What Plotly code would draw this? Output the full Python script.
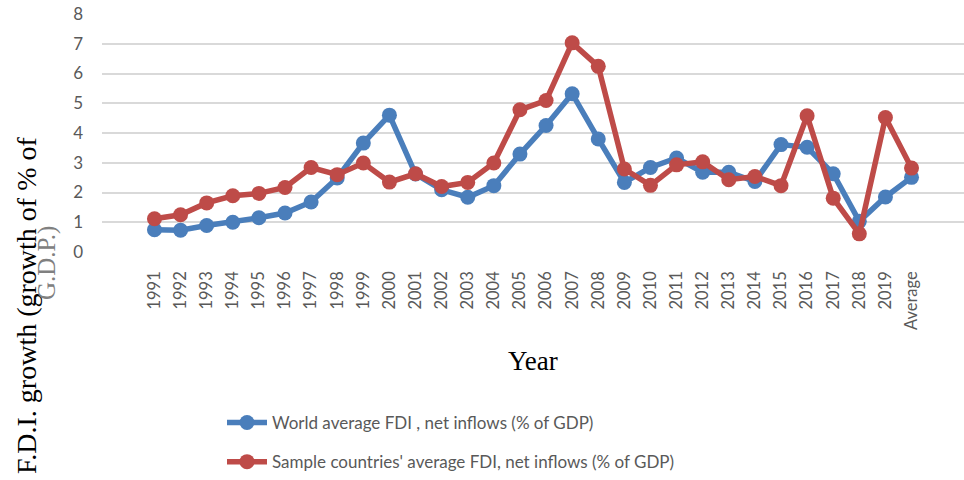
import plotly.graph_objects as go

# Categories along the x axis
years = [str(y) for y in range(1991, 2020)] + ["Average"]

# FDI net inflows, % of GDP
world_fdi = [0.75, 0.73, 0.89, 1.00, 1.15, 1.31, 1.68, 2.49, 3.66, 4.60,
             2.62, 2.09, 1.84, 2.23, 3.29, 4.25, 5.32, 3.80, 2.34, 2.84,
             3.16, 2.68, 2.68, 2.37, 3.61, 3.52, 2.63, 1.03, 1.85, 2.51]
sample_fdi = [1.12, 1.25, 1.65, 1.89, 1.97, 2.17, 2.84, 2.60, 2.99, 2.35,
              2.63, 2.20, 2.34, 2.99, 4.78, 5.09, 7.03, 6.24, 2.79, 2.24,
              2.93, 3.03, 2.43, 2.54, 2.23, 4.58, 1.81, 0.61, 4.52, 2.82]

y_ticks = [0, 1, 2, 3, 4, 5, 6, 7, 8]

BLUE = "#4A7EBB"
RED = "#BE4B48"
TICK_GREY = "#595959"
SANS = "Lato, 'Open Sans', sans-serif"
SERIF = "'Liberation Serif', 'Times New Roman', serif"

W, H = 964, 480
ML, MR, MT, MB = 102, 0, 14, 228
PW, PH = W - ML - MR, H - MT - MB


def px_x(px):
    """Page pixel column -> paper x."""
    return (px - ML) / PW


def px_y(py):
    """Page pixel row (from top) -> paper y."""
    return (H - MB - py) / PH


fig = go.Figure()
fig.add_trace(go.Scatter(
    x=years, y=world_fdi, mode="lines+markers",
    name="World average FDI , net inflows (% of GDP)",
    line=dict(color=BLUE, width=5.5),
    marker=dict(color=BLUE, size=15),
    legendgroup="a",
))
fig.add_trace(go.Scatter(
    x=years, y=sample_fdi, mode="lines+markers",
    name="Sample countries' average FDI, net inflows (% of GDP)",
    line=dict(color=RED, width=5.5),
    marker=dict(color=RED, size=15),
    legendgroup="b",
))

fig.update_layout(
    width=W, height=H,
    margin=dict(l=ML, r=MR, t=MT, b=MB, autoexpand=False),
    plot_bgcolor="white", paper_bgcolor="white",
    showlegend=True,
    legend=dict(
        xref="container", yref="container",
        x=222 / W, y=1 - 405 / H, xanchor="left", yanchor="top",
        font=dict(family=SANS, size=17, color=TICK_GREY),
        tracegroupgap=14, bgcolor="rgba(0,0,0,0)",
        itemwidth=40,
    ),
    xaxis=dict(
        type="category", tickangle=-90,
        tickmode="array", tickvals=years, ticktext=years,
        tickfont=dict(family=SANS, size=16.5, color=TICK_GREY),
        showgrid=False, showline=False, ticks="",
        ticklabelstandoff=15,
    ),
    yaxis=dict(
        range=[0, 8], tickvals=y_ticks,
        tickfont=dict(family=SANS, size=17, color=TICK_GREY),
        showgrid=True, gridcolor="#D9D9D9", gridwidth=1.5,
        zeroline=False, showline=False, ticks="",
        ticklabelstandoff=18,
    ),
    annotations=[
        dict(text="Year", xref="paper", yref="paper",
             x=0.5, y=px_y(361), xanchor="center", yanchor="middle",
             showarrow=False, font=dict(family=SERIF, size=27, color="black")),
        dict(text="F.D.I. growth (growth of % of", xref="paper", yref="paper",
             x=px_x(26), y=px_y(306), xanchor="center", yanchor="middle",
             textangle=-90, showarrow=False,
             font=dict(family=SERIF, size=28, color="black")),
        dict(text="G.D.P.)", xref="paper", yref="paper",
             x=px_x(47), y=px_y(263), xanchor="center", yanchor="middle",
             textangle=-90, showarrow=False,
             font=dict(family=SERIF, size=25, color="#808080")),
    ],
)

fig.write_html("out.html")
